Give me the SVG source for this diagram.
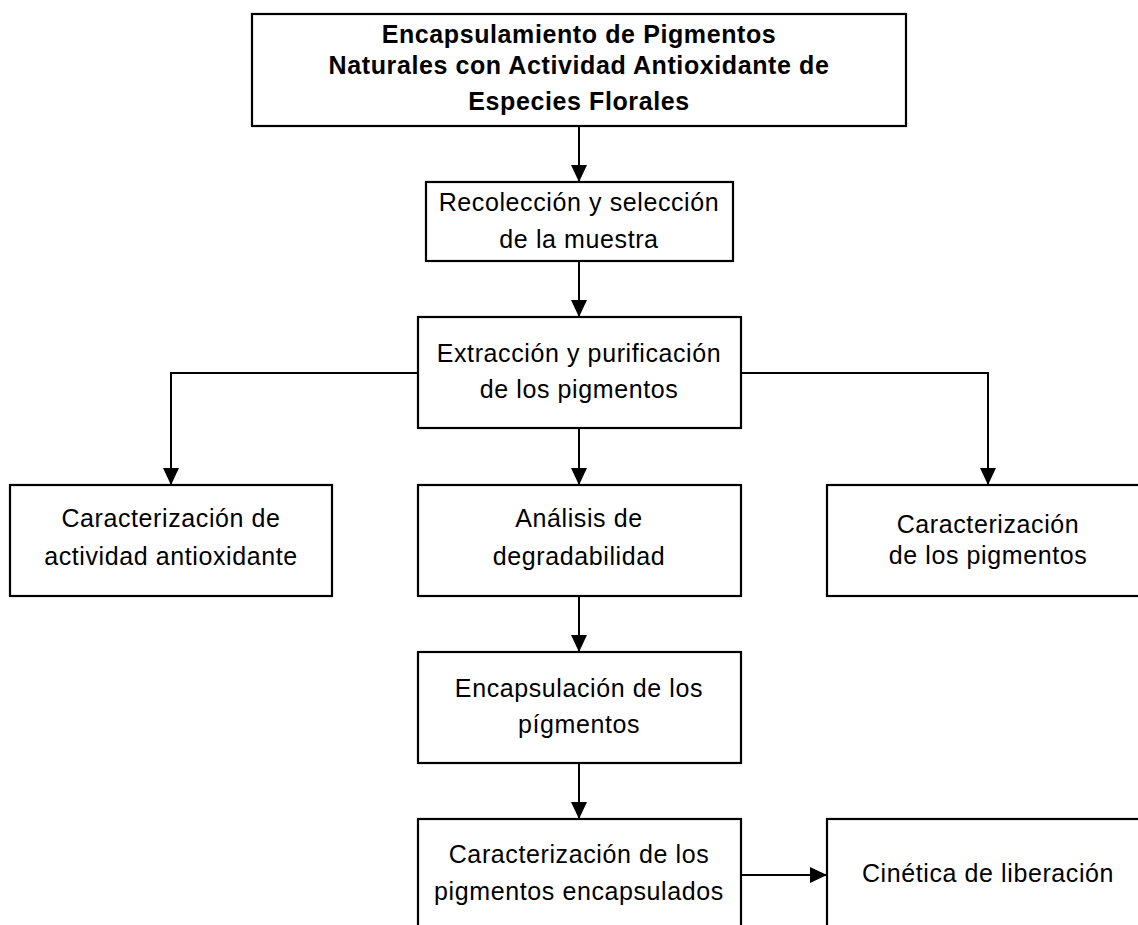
<svg xmlns="http://www.w3.org/2000/svg" width="1138" height="925" viewBox="0 0 1138 925">
<style>
  .box { fill: #ffffff; stroke: #000000; stroke-width: 2.2; }
  .t { font-family: "Liberation Sans", Arial, sans-serif; font-size: 25px; letter-spacing: 0.6px; fill: #000000; text-anchor: middle; }
  .b { font-weight: bold; letter-spacing: 0.6px; }
  .c { fill: none; stroke: #000000; stroke-width: 2; }
</style>
<defs>
  <marker id="ah" markerUnits="userSpaceOnUse" markerWidth="17" markerHeight="16" refX="17" refY="8" orient="auto">
    <path d="M0,0 L17,8 L0,16 z" fill="#000000"/>
  </marker>
</defs>
<rect width="1138" height="925" fill="#ffffff"/>
<g id="connectors">
  <path class="c" d="M579,126 V182" marker-end="url(#ah)"/>
  <path class="c" d="M579,261 V317" marker-end="url(#ah)"/>
  <path class="c" d="M418,373 H171 V485" marker-end="url(#ah)"/>
  <path class="c" d="M741,373 H988 V485" marker-end="url(#ah)"/>
  <path class="c" d="M579,428 V485" marker-end="url(#ah)"/>
  <path class="c" d="M579,596 V652" marker-end="url(#ah)"/>
  <path class="c" d="M579,763 V819" marker-end="url(#ah)"/>
  <path class="c" d="M741,875 H827" marker-end="url(#ah)"/>
</g>
<g id="n-title">
  <rect class="box" x="252" y="14" width="654" height="112"/>
  <text class="t b" x="579" y="43">Encapsulamiento de Pigmentos</text>
  <text class="t b" x="579" y="74">Naturales con Actividad Antioxidante de</text>
  <text class="t b" x="579" y="110">Especies Florales</text>
</g>
<g id="n-recoleccion">
  <rect class="box" x="426" y="182" width="307" height="79"/>
  <text class="t" x="579" y="211">Recolección y selección</text>
  <text class="t" x="579" y="248">de la muestra</text>
</g>
<g id="n-extraccion">
  <rect class="box" x="418" y="317" width="323" height="111"/>
  <text class="t" x="579" y="362">Extracción y purificación</text>
  <text class="t" x="579" y="398">de los pigmentos</text>
</g>
<g id="n-antioxidante">
  <rect class="box" x="10" y="485" width="322" height="111"/>
  <text class="t" x="171" y="527">Caracterización de</text>
  <text class="t" x="171" y="565">actividad antioxidante</text>
</g>
<g id="n-degradabilidad">
  <rect class="box" x="418" y="485" width="323" height="111"/>
  <text class="t" x="579" y="527">Análisis de</text>
  <text class="t" x="579" y="565">degradabilidad</text>
</g>
<g id="n-caract-pigmentos">
  <rect class="box" x="827" y="485" width="323" height="111"/>
  <text class="t" x="988" y="533">Caracterización</text>
  <text class="t" x="988" y="564">de los pigmentos</text>
</g>
<g id="n-encapsulacion">
  <rect class="box" x="418" y="652" width="323" height="111"/>
  <text class="t" x="579" y="697">Encapsulación de los</text>
  <text class="t" x="579" y="733">pígmentos</text>
</g>
<g id="n-caract-encapsulados">
  <rect class="box" x="418" y="819" width="323" height="130"/>
  <text class="t" x="579" y="863">Caracterización de los</text>
  <text class="t" x="579" y="900">pigmentos encapsulados</text>
</g>
<g id="n-cinetica">
  <rect class="box" x="827" y="819" width="323" height="130"/>
  <text class="t" x="988" y="882">Cinética de liberación</text>
</g>
</svg>
